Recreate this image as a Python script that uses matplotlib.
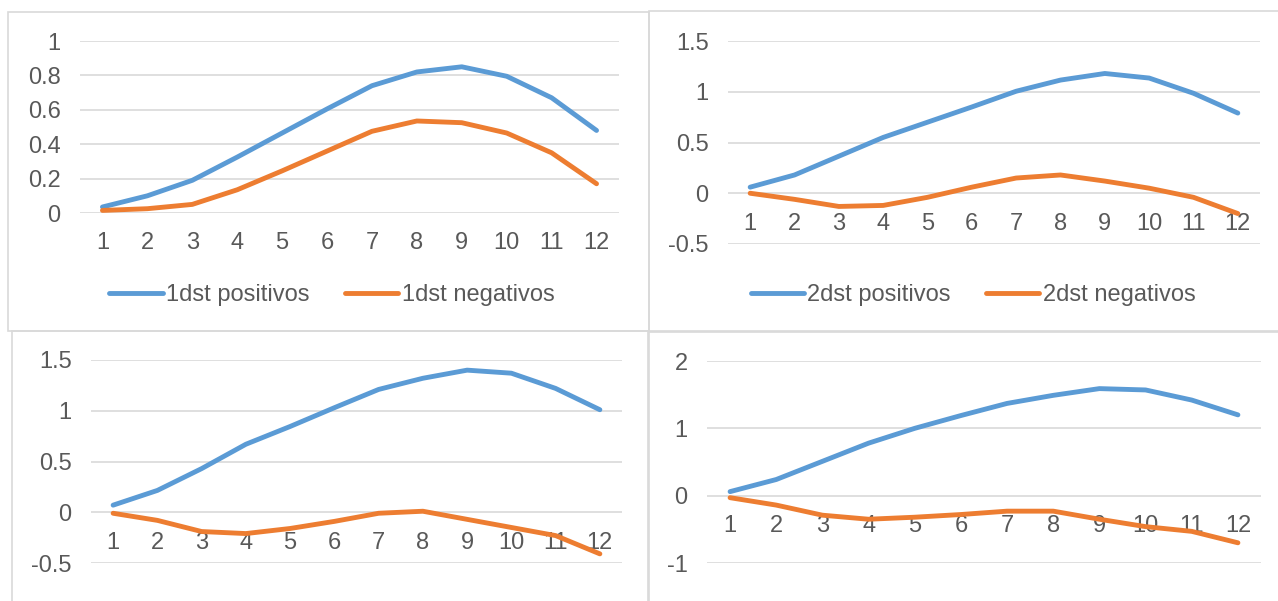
import matplotlib
matplotlib.use("Agg")
import matplotlib.pyplot as plt
from matplotlib.patches import Rectangle
from matplotlib.ticker import FuncFormatter

# months
months = list(range(1, 13))

# series per chart
dst1_pos = [0.035, 0.10, 0.19, 0.325, 0.465, 0.605, 0.74, 0.82, 0.85, 0.795, 0.67, 0.48]
dst1_neg = [0.015, 0.025, 0.05, 0.135, 0.245, 0.36, 0.475, 0.535, 0.525, 0.465, 0.35, 0.17]
dst2_pos = [0.06, 0.18, 0.365, 0.55, 0.70, 0.85, 1.005, 1.115, 1.18, 1.135, 0.985, 0.79]
dst2_neg = [0.0, -0.06, -0.13, -0.12, -0.04, 0.06, 0.15, 0.18, 0.12, 0.05, -0.04, -0.20]
dst3_pos = [0.07, 0.215, 0.43, 0.67, 0.845, 1.03, 1.21, 1.32, 1.40, 1.37, 1.22, 1.01]
dst3_neg = [-0.01, -0.08, -0.19, -0.21, -0.16, -0.09, -0.01, 0.01, -0.07, -0.15, -0.23, -0.41]
dst4_pos = [0.06, 0.24, 0.51, 0.78, 1.0, 1.19, 1.37, 1.49, 1.59, 1.57, 1.42, 1.20]
dst4_neg = [-0.03, -0.14, -0.29, -0.35, -0.32, -0.28, -0.23, -0.23, -0.35, -0.46, -0.53, -0.70]

yticks1 = [0, 0.2, 0.4, 0.6, 0.8, 1]
yticks2 = [-0.5, 0, 0.5, 1, 1.5]
yticks3 = [-0.5, 0, 0.5, 1, 1.5]
yticks4 = [-1, 0, 1, 2]

BLUE = "#5B9BD5"
ORANGE = "#ED7D31"
GRID = "#D9D9D9"
TEXT = "#595959"
FS = 17

plt.rcParams["font.family"] = ["Liberation Sans", "DejaVu Sans"]

W, H = 1278, 601
fig = plt.figure(figsize=(W / 100, H / 100), dpi=100)


def px_rect(x0, y0, x1, y1):
    # pixel box (top-left origin) -> figure fraction [left, bottom, width, height]
    return [x0 / W, 1 - y1 / H, (x1 - x0) / W, (y1 - y0) / H]


# chart frames
for x0, y0, x1, y1 in [(8, 12, 649, 331), (649, 11, 1290, 332),
                       (12, 331, 649, 620), (648, 331, 1290, 620)]:
    l, b, w, h = px_rect(x0, y0, x1, y1)
    fig.patches.append(Rectangle((l, b), w, h, transform=fig.transFigure,
                                 fill=False, edgecolor=GRID, linewidth=1.2))


def chart(box, pos, neg, yticks, labels=None):
    ax = fig.add_axes(px_rect(*box))
    ax.set_axisbelow(True)
    l1, = ax.plot(months, pos, color=BLUE, lw=3.5, solid_capstyle="round",
                  solid_joinstyle="round", clip_on=False)
    l2, = ax.plot(months, neg, color=ORANGE, lw=3.5, solid_capstyle="round",
                  solid_joinstyle="round", clip_on=False)
    ax.set_xlim(0.5, 12.5)
    ax.set_ylim(yticks[0], yticks[-1])
    ax.set_yticks(yticks)
    ax.set_xticks(months)
    ax.yaxis.set_major_formatter(FuncFormatter(lambda v, _: f"{v:g}"))
    ax.grid(axis="y", color=GRID, lw=1.2)
    for s in ax.spines.values():
        s.set_visible(False)
    ax.spines["bottom"].set_position(("data", 0))
    ax.tick_params(axis="x", length=0, pad=14, labelsize=FS, labelcolor=TEXT)
    ax.tick_params(axis="y", length=0, pad=14, labelsize=FS, labelcolor=TEXT)
    if labels:
        l1.set_label(labels[0])
        l2.set_label(labels[1])
    return ax, (l1, l2)


ax1, h1 = chart((80, 41, 619, 213), dst1_pos, dst1_neg, yticks1,
                ["1dst positivos", "1dst negativos"])
ax2, h2 = chart((728, 41, 1260, 244), dst2_pos, dst2_neg, yticks2,
                ["2dst positivos", "2dst negativos"])
ax3, h3 = chart((91, 360, 622, 563), dst3_pos, dst3_neg, yticks3)
ax4, h4 = chart((707, 361, 1261, 563), dst4_pos, dst4_neg, yticks4)

for handles, cx in [(h1, 332), (h2, 973)]:
    leg = fig.legend(handles=handles, loc="center", ncol=2,
                     bbox_to_anchor=(cx / W, 1 - 295 / H),
                     frameon=False, fontsize=FS, handlelength=2.25,
                     handletextpad=0.15, columnspacing=1.5, borderpad=0)
    for t in leg.get_texts():
        t.set_color(TEXT)

fig.savefig("out.png", dpi=100)
